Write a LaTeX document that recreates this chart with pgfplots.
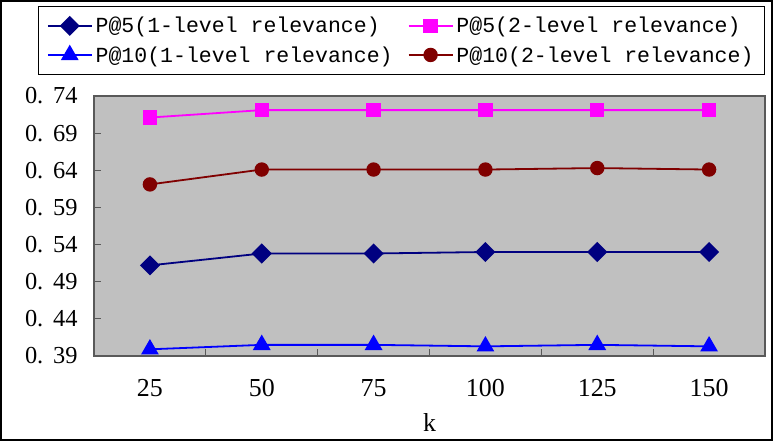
\documentclass[border=0pt]{standalone}
\usepackage{fontspec}
\setmainfont{Liberation Serif}
\newfontfamily\monofont{Liberation Mono}
\usepackage{pgfplots}
\pgfplotsset{compat=1.18}
\definecolor{cnavy}{RGB}{0,0,128}
\definecolor{cmag}{RGB}{255,0,255}
\definecolor{cblue}{RGB}{0,0,255}
\definecolor{cmaroon}{RGB}{128,0,0}
\definecolor{cgray}{RGB}{192,192,192}
\begin{document}
\begin{tikzpicture}
\begin{axis}[
  scale only axis,
  width=671bp, height=260bp,
  xmin=-0.5, xmax=5.5,
  ymin=0.39, ymax=0.74,
  axis background/.style={fill=cgray},
  axis line style={draw=black!65, line width=1.3bp},
  xtick={0,1,2,3,4,5},
  xticklabels={25,50,75,100,125,150},
  minor xtick={0.5,1.5,2.5,3.5,4.5},
  major x tick style={draw=none},
  minor x tick style={draw=black!65, line width=1bp},
  minor tick length=7bp,
  major tick length=7bp,
  ytick={0.39,0.44,0.49,0.54,0.59,0.64,0.69,0.74},
  yticklabels={0.\hspace{0.4em}39,0.\hspace{0.4em}44,0.\hspace{0.4em}49,0.\hspace{0.4em}54,0.\hspace{0.4em}59,0.\hspace{0.4em}64,0.\hspace{0.4em}69,0.\hspace{0.4em}74},
  y tick style={draw=black!65, line width=1bp},
  tick align=inside,
  xtick pos=bottom, ytick pos=left,
  /pgf/number format/assume math mode=true,
  xticklabel style={font=\fontsize{26}{28}\selectfont, yshift=-20bp},
  yticklabel style={font=\fontsize{24.5}{26}\selectfont, xshift=-13bp},
  xlabel={k},
  xlabel style={font=\fontsize{26}{28}\selectfont, at={(axis description cs:0.5,0)}, anchor=center, yshift=-67bp},
  legend columns=2,
  legend cell align=left,
  legend style={at={(rel axis cs:1,1)}, anchor=south east, yshift=21bp,
    draw=black, line width=1bp, fill=white,
    font=\monofont\fontsize{21.6}{24}\selectfont,
    inner xsep=8bp, inner ysep=8bp,
    nodes={inner sep=3bp},
    /tikz/every even column/.append style={column sep=12bp},
    row sep=6bp},
  legend image code/.code={\draw[mark repeat=2,mark phase=2,#1] plot coordinates {(0bp,0bp) (22bp,0bp) (44bp,0bp)};},
  every axis plot/.append style={line width=1.8bp},
]
\coordinate (PSW) at (rel axis cs:0,0);
\coordinate (PNE) at (rel axis cs:1,1);
\addplot[color=cnavy, mark=square*, mark size=6.2bp, mark options={rotate=45, solid, fill=cnavy}] coordinates {
(0,0.512) (1,0.528) (2,0.528) (3,0.530) (4,0.530) (5,0.530)};
\addlegendentry{P@5(1-level relevance)}
\addplot[color=cmag, mark=square*, mark size=6.2bp, mark options={solid, fill=cmag}] coordinates {
(0,0.711) (1,0.721) (2,0.721) (3,0.721) (4,0.721) (5,0.721)};
\addlegendentry{P@5(2-level relevance)}
\addplot[color=cblue, mark=triangle*, mark size=8.5bp, mark options={solid, fill=cblue}] coordinates {
(0,0.399) (1,0.405) (2,0.405) (3,0.403) (4,0.405) (5,0.403)};
\addlegendentry{P@10(1-level relevance)}
\addplot[color=cmaroon, mark=*, mark size=6.3bp, mark options={solid, fill=cmaroon}] coordinates {
(0,0.621) (1,0.641) (2,0.641) (3,0.641) (4,0.643) (5,0.641)};
\addlegendentry{P@10(2-level relevance)}
\end{axis}
\draw[black, line width=2bp] ([xshift=-93bp,yshift=-84bp]PSW) rectangle ([xshift=7bp,yshift=95bp]PNE);
\end{tikzpicture}
\end{document}
